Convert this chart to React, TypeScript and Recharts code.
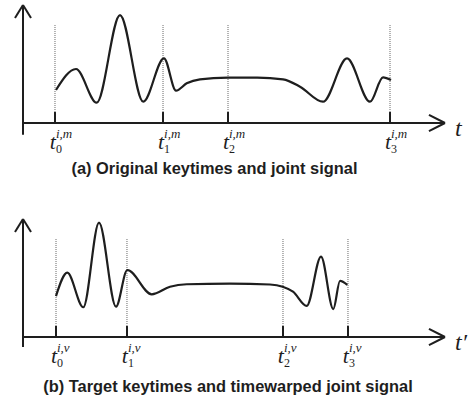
import React from 'react';
import { LineChart, Line, XAxis, YAxis, ReferenceLine } from 'recharts';

// ---- Data (time units 0..100 along the t axis, signal units 0..100) ----
const topTimes = [7.82, 12.56, 17.46, 22.99, 28.5, 33.41, 36.26, 38.79, 41.94, 48.58, 55.5, 61.61, 65.64, 71.09, 76.78, 82.23, 85.31, 87.2];
const topSignal = [27.97, 45.76, 17.2, 91.5, 18.05, 54.8, 27.4, 33.6, 37.0, 38.4, 38.5, 37.0, 30.8, 18.05, 54.8, 18.05, 38.7, 36.4];
const topKeytimes = [7.58, 33.18, 48.58, 86.97];

const bottomTimes = [7.82, 10.5, 14.29, 18.01, 22.04, 24.72, 30.5, 34.83, 38.79, 49.05, 58.53, 61.54, 63.98, 67.23, 70.62, 73.53, 75.12, 76.85];
const bottomSignal = [34.7, 54.5, 25.2, 96.9, 25.7, 56.8, 36.2, 42.6, 44.7, 45.3, 44.5, 42.6, 38.4, 26.3, 68.1, 23.7, 47.5, 44.1];
const bottomKeytimes = [7.82, 24.64, 61.61, 77.01];

const keyIndexLabels = ['0', '1', '2', '3'];
const topSup = 'i,m';
const bottomSup = 'i,v';
const axisNames = ['t', 't\u2032'];
const captions = ['(a) Original keytimes and joint signal', '(b) Target keytimes and timewarped joint signal'];

const INK = '#1e1e1e';
const SERIF = "'Liberation Serif', 'Times New Roman', serif";
const SANS = "'Liberation Sans', Arial, sans-serif";
const AXIS_H = 30;

const KeyTick = (props: any) => {
  const { x, y, index, sup } = props;
  return (
    <g>
      <text x={x + 1} y={y + 26} textAnchor="end" fontFamily={SERIF} fontStyle="italic" fontSize={22} fill={INK}>t</text>
      <text x={x + 1} y={y + 15} fontFamily={SERIF} fontStyle="italic" fontSize={13} fill={INK}>{sup}</text>
      <text x={x + 1} y={y + 30} fontFamily={SERIF} fontSize={12} fill={INK}>{keyIndexLabels[index]}</text>
    </g>
  );
};

type PanelProps = {
  times: number[];
  signal: number[];
  keytimes: number[];
  sup: string;
  height: number;
  marginTop: number;
  tail: number;
};

const Panel = ({ times, signal, keytimes, sup, height, marginTop, tail }: PanelProps) => {
  const data = times.map((t, i) => ({ t, v: signal[i] }));
  const plotH = 118;
  const marginBottom = height - marginTop - plotH - AXIS_H;
  return (
    <LineChart width={473} height={height} data={data} margin={{ top: marginTop, right: 28, bottom: marginBottom, left: 23 }}>
      <XAxis
        dataKey="t"
        type="number"
        height={AXIS_H}
        domain={[0, 100]}
        allowDataOverflow
        ticks={keytimes}
        interval={0}
        tickLine={false}
        tickSize={0}
        tickMargin={0}
        axisLine={{ stroke: INK, strokeWidth: 2 }}
        tick={(p: any) => <KeyTick {...p} sup={sup} />}
      />
      <YAxis hide type="number" domain={[0, 100]} allowDataOverflow />
      {keytimes.map((k, i) => (
        <ReferenceLine key={'d' + i} segment={[{ x: k, y: 9.3 }, { x: k, y: 83 }]} stroke="#666" strokeWidth={1} strokeDasharray="1 1" ifOverflow="visible" />
      ))}
      {keytimes.map((k, i) => (
        <ReferenceLine key={'k' + i} segment={[{ x: k, y: 0 }, { x: k, y: 9.3 }]} stroke={INK} strokeWidth={2} ifOverflow="visible" />
      ))}
      <ReferenceLine segment={[{ x: 0, y: -tail }, { x: 0, y: 100 }]} stroke={INK} strokeWidth={2} ifOverflow="visible" />
      <ReferenceLine segment={[{ x: -1.9, y: 89 }, { x: 0, y: 100 }]} stroke={INK} strokeWidth={2} ifOverflow="visible" />
      <ReferenceLine segment={[{ x: 1.9, y: 89 }, { x: 0, y: 100 }]} stroke={INK} strokeWidth={2} ifOverflow="visible" />
      <ReferenceLine segment={[{ x: 96.2, y: 6.8 }, { x: 100, y: 0 }]} stroke={INK} strokeWidth={2} ifOverflow="visible" />
      <ReferenceLine segment={[{ x: 96.2, y: -6.8 }, { x: 100, y: 0 }]} stroke={INK} strokeWidth={2} ifOverflow="visible" />
      <Line type="monotone" dataKey="v" stroke={INK} strokeWidth={2.2} dot={false} activeDot={false} isAnimationActive={false} />
    </LineChart>
  );
};

export default function App() {
  return (
    <div style={{ position: 'absolute', left: 0, top: 0, width: 473, height: 407, background: '#fff' }}>
      <div style={{ position: 'absolute', left: 0, top: 0 }}>
        <Panel times={topTimes} signal={topSignal} keytimes={topKeytimes} sup={topSup} height={200} marginTop={5} tail={10} />
      </div>
      <div style={{ position: 'absolute', left: 0, top: 200 }}>
        <Panel times={bottomTimes} signal={bottomSignal} keytimes={bottomKeytimes} sup={bottomSup} height={207} marginTop={19} tail={8.5} />
      </div>
      <svg width={473} height={407} style={{ position: 'absolute', left: 0, top: 0, pointerEvents: 'none' }}>
        <text x={455} y={136} fontFamily={SERIF} fontStyle="italic" fontSize={24} fill={INK}>{axisNames[0]}</text>
        <text x={455} y={350} fontFamily={SERIF} fontStyle="italic" fontSize={24} fill={INK}>{axisNames[1]}</text>
        <text x={214.5} y={174} textAnchor="middle" fontFamily={SANS} fontWeight="bold" fontSize={16.4} fill={INK}>{captions[0]}</text>
        <text x={228} y={392} textAnchor="middle" fontFamily={SANS} fontWeight="bold" fontSize={16.4} fill={INK}>{captions[1]}</text>
      </svg>
    </div>
  );
}
